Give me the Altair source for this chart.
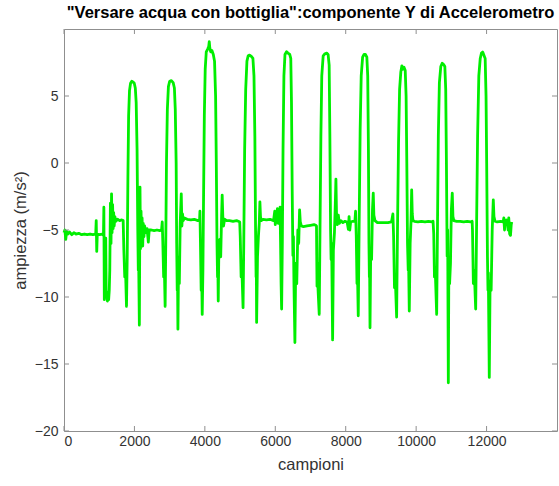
import altair as alt
import pandas as pd

# Componente Y dell'accelerometro durante dieci versate d'acqua con la bottiglia
campioni = [
    # fase iniziale a riposo
    0, 25, 50, 75, 110, 160, 220, 280, 340, 420, 500, 580, 660, 740, 820, 900, 915, 930, 945, 1010, 1090,
    1120, 1132, 1145, 1160, 1172, 1185, 1198, 1215, 1232, 1250, 1268, 1285,
    1300, 1318, 1335, 1350, 1365, 1380, 1395, 1410, 1425, 1445, 1470, 1520, 1580, 1640, 1680,
    # versata 1
    1700, 1725, 1745, 1775, 1795, 1815, 1835, 1860, 1890, 1925, 1960, 1995, 2025, 2050, 2075, 2095,
    2110, 2120, 2140, 2158, 2172, 2188, 2203, 2218, 2235, 2250, 2270, 2290, 2320, 2360, 2395, 2420,
    2480, 2560, 2640, 2720, 2770,
    # versata 2
    2790, 2805, 2830, 2848, 2872, 2890, 2910, 2935, 2965, 3000, 3050, 3100, 3135, 3160, 3185, 3200,
    3215, 3225, 3235, 3255, 3275, 3300, 3330, 3348, 3365, 3385, 3420, 3500, 3600, 3700, 3800, 3850,
    # versata 3
    3860, 3875, 3895, 3910, 3925, 3945, 3965, 3985, 4010, 4040, 4080, 4110, 4125, 4140, 4165, 4200,
    4240, 4275, 4305, 4325, 4345, 4360, 4368, 4380, 4400, 4425, 4450, 4475, 4492, 4510, 4530, 4560,
    4620, 4700, 4800, 4900, 4950,
    # versata 4
    4990, 5005, 5030, 5050, 5085, 5105, 5130, 5160, 5195, 5230, 5270, 5320, 5365, 5395, 5420, 5440,
    5455, 5462, 5470, 5495, 5520, 5545, 5563, 5580, 5600, 5650, 5750, 5850, 5950, 5985, 6000, 6030,
    6060, 6080, 6100,
    # versata 5
    6120, 6135, 6150, 6165, 6180, 6200, 6220, 6245, 6275, 6320, 6360, 6410, 6440, 6460, 6480, 6500,
    6515, 6530, 6557, 6580, 6610, 6640, 6665, 6690, 6710, 6740, 6800, 6900, 7000, 7100, 7150,
    # versata 6
    7170, 7185, 7200, 7215, 7248, 7270, 7295, 7320, 7360, 7410, 7460, 7500, 7530, 7550, 7570, 7585,
    7600, 7628, 7650, 7680, 7705, 7722, 7740, 7760, 7790, 7820, 7860, 7920, 7980, 8040, 8075, 8095,
    8115, 8140, 8200, 8260,
    # versata 7
    8280, 8300, 8320, 8335, 8356, 8380, 8410, 8440, 8480, 8520, 8560, 8600, 8625, 8645, 8660, 8672,
    8678, 8690, 8710, 8735, 8760, 8782, 8800, 8830, 8900, 9000, 9100, 9200, 9300,
    # versata 8
    9340, 9360, 9385, 9405, 9446, 9470, 9500, 9530, 9565, 9595, 9625, 9655, 9690, 9715, 9735, 9755,
    9775, 9785, 9805, 9830, 9855, 9873, 9890, 9910, 9950, 10050, 10150, 10250, 10350, 10450, 10480,
    # versata 9
    10500, 10520, 10540, 10583, 10605, 10630, 10660, 10700, 10740, 10780, 10815, 10840, 10860, 10880,
    10895, 10914, 10930, 10950, 10975, 11000, 11026, 11045, 11070, 11150, 11250, 11350, 11450, 11550,
    11590,
    # versata 10 e coda finale
    11600, 11625, 11650, 11691, 11715, 11745, 11780, 11820, 11855, 11890, 11930, 11960, 11985, 12003,
    12025, 12040, 12050, 12077, 12100, 12130, 12160, 12191, 12210, 12240, 12300, 12400, 12470,
    12490, 12510, 12530, 12560, 12590, 12610, 12630, 12655, 12680, 12700, 12715,
]

ampiezza = [
    # fase iniziale a riposo
    -5.2, -5.0, -5.7, -5.1, -5.3, -5.15, -5.35, -5.2, -5.3, -5.25, -5.35, -5.3, -5.35, -5.3, -5.35, -5.3, -4.3, -6.6, -5.3, -5.35, -5.3,
    -5.4, -3.3, -10.2, -6.0, -9.9, -5.6, -10.0, -9.6, -10.3, -9.9, -10.2, -9.5,
    -8.0, -3.0, -6.0, -2.3, -5.2, -3.1, -4.9, -3.7, -4.7, -4.0, -4.35, -4.2, -4.3, -4.25, -4.3,
    # versata 1
    -6.5, -8.5, -7.8, -10.7, -7.0, -1.0, 3.5, 5.4, 5.95, 6.1, 6.05, 5.95, 5.6, 4.5, 1.0, -5.0,
    -8.0, -7.3, -12.1, -1.8, -6.4, -3.6, -5.9, -4.1, -6.2, -4.5, -5.5, -4.7, -5.2, -4.9, -5.9, -5.0,
    -5.0, -5.05, -5.0, -5.05, -5.0,
    # versata 2
    -4.4, -5.8, -8.5, -7.6, -10.7, -6.0, 0.0, 4.0, 5.7, 6.1, 6.15, 6.0, 5.6, 4.0, 0.0, -6.0,
    -9.5, -8.8, -12.4, -7.0, -9.0, -4.5, -2.3, -4.7, -3.8, -4.3, -4.1, -4.2, -4.25, -4.2, -4.3, -4.25,
    # versata 3
    -3.6, -6.0, -9.5, -8.3, -11.3, -8.0, -2.0, 3.5, 7.0, 8.3, 8.5, 8.7, 9.05, 8.6, 8.3, 8.4,
    8.1, 7.6, 5.0, 0.0, -6.0, -8.5, -7.5, -10.3, -6.0, -5.7, -7.0, -4.0, -2.4, -4.0, -4.7, -4.2,
    -4.3, -4.3, -4.35, -4.3, -4.35,
    # versata 4
    -4.4, -5.5, -8.5, -7.8, -10.8, -6.0, 1.0, 5.5, 7.6, 8.0, 8.05, 7.95, 7.8, 6.5, 2.0, -5.0,
    -8.5, -7.8, -11.9, -7.0, -5.5, -4.5, -2.9, -4.0, -4.3, -4.2, -4.25, -4.2, -4.3, -3.6, -4.6, -4.0,
    -3.4, -4.5, -4.3,
    # versata 5
    -4.3, -3.3, -6.0, -9.0, -10.9, -6.0, 1.0, 6.5, 8.1, 8.3, 8.2, 8.1, 7.8, 4.5, -2.0, -6.9,
    -5.5, -9.0, -13.4, -7.5, -9.0, -5.0, -6.0, -3.5, -4.4, -4.7, -4.75, -4.7, -4.65, -4.6, -4.65,
    # versata 6
    -4.7, -9.2, -7.5, -9.5, -11.3, -5.0, 2.0, 6.5, 8.0, 8.15, 8.2, 8.1, 7.3, 2.0, -5.0, -7.2,
    -6.0, -13.2, -6.5, -5.2, -3.0, -1.2, -4.0, -4.6, -3.9, -4.5, -4.3, -4.45, -4.35, -4.4, -4.95, -4.0,
    -5.0, -4.4, -4.35, -4.35,
    # versata 7
    -3.6, -5.5, -9.0, -8.3, -11.4, -5.0, 2.5, 6.5, 7.9, 8.1, 8.1, 7.9, 6.5, 1.0, -6.0, -8.5,
    -7.5, -12.3, -6.5, -7.2, -3.5, -2.25, -3.9, -4.3, -4.45, -4.45, -4.45, -4.45, -4.4,
    # versata 8
    -3.8, -5.5, -9.3, -8.4, -11.5, -5.0, 1.5, 5.5, 6.8, 7.25, 7.0, 7.15, 6.9, 5.0, 0.0, -6.0,
    -8.0, -7.3, -11.05, -6.0, -4.3, -2.0, -3.8, -4.3, -4.35, -4.4, -4.35, -4.4, -4.35, -4.4, -4.35,
    # versata 9
    -5.3, -8.5, -7.8, -11.3, -5.0, 2.0, 6.0, 7.2, 7.45, 7.35, 7.2, 5.5, 0.0, -6.96,
    -5.0, -16.4, -7.0, -9.0, -7.5, -3.5, -2.25, -4.0, -4.3, -4.35, -4.35, -4.4, -4.35, -4.4,
    -4.35,
    # versata 10 e coda finale
    -5.0, -9.0, -8.0, -10.9, -5.0, 2.0, 6.5, 7.8, 8.2, 8.28, 8.0, 7.8, 5.0, 0.0,
    -7.0, -9.5, -8.2, -16.0, -8.8, -9.5, -5.0, -2.75, -4.0, -4.35, -4.4, -4.35, -4.4,
    -4.1, -5.0, -4.4, -4.25, -4.3, -5.0, -4.1, -5.3, -5.4, -4.6, -4.4,
]

tick_x = [0, 2000, 4000, 6000, 8000, 10000, 12000]
tick_y = [-20, -15, -10, -5, 0, 5]

W, H = 493, 402
FONT = "Liberation Sans"
FRAME = "#8f8f8f"
TEXT = "#333333"

dominio_x = [0, 14000]
dominio_y = [-20, 10]

df = pd.DataFrame({"campioni": campioni, "ampiezza": ampiezza})

sx = alt.Scale(domain=dominio_x, nice=False, zero=False)
sy = alt.Scale(domain=dominio_y, nice=False, zero=False)

segnale = alt.Chart(df).mark_line(color="#00ee00", strokeWidth=2.8, strokeJoin="round").encode(
    x=alt.X(
        "campioni:Q",
        scale=sx,
        axis=alt.Axis(values=tick_x, title="campioni", format="d", labelPadding=3,
                      titlePadding=8, titleFontSize=16.5, titleFontWeight="normal", grid=False),
    ),
    y=alt.Y(
        "ampiezza:Q",
        scale=sy,
        axis=alt.Axis(values=tick_y, title="ampiezza (m/s²)", format="d", labelPadding=6,
                      titlePadding=6, titleFontSize=16.5, titleFontWeight="normal", grid=False),
    ),
    order="campioni:Q",
)

# tacche interne sui quattro lati del riquadro (stessi campi e scale del segnale)
tx = pd.DataFrame({"campioni": tick_x})
ty = pd.DataFrame({"ampiezza": tick_y})

tacche_basso = alt.Chart(tx).mark_rule(color=FRAME, strokeWidth=1).encode(
    x=alt.X("campioni:Q", scale=sx), y=alt.value(H), y2=alt.value(H - 5))
tacche_alto = alt.Chart(tx).mark_rule(color=FRAME, strokeWidth=1).encode(
    x=alt.X("campioni:Q", scale=sx), y=alt.value(0), y2=alt.value(5))
tacche_sx = alt.Chart(ty).mark_rule(color=FRAME, strokeWidth=1).encode(
    y=alt.Y("ampiezza:Q", scale=sy), x=alt.value(0), x2=alt.value(5))
tacche_dx = alt.Chart(ty).mark_rule(color=FRAME, strokeWidth=1).encode(
    y=alt.Y("ampiezza:Q", scale=sy), x=alt.value(W), x2=alt.value(W - 5))

chart = (
    alt.layer(segnale, tacche_basso, tacche_alto, tacche_sx, tacche_dx)
    .properties(
        width=W,
        height=H,
        title=alt.TitleParams(
            '"Versare acqua con bottiglia":componente Y di Accelerometro',
            font=FONT, fontSize=16.5, fontWeight="bold", color="#000000",
            anchor="middle", offset=7,
        ),
        autosize=alt.AutoSizeParams(type="none"),
        padding={"left": 64, "top": 29, "right": 2, "bottom": 55},
    )
    .configure_view(stroke=FRAME, strokeWidth=1)
    .configure_axis(
        domain=False, ticks=False, grid=False,
        labelFont=FONT, labelFontSize=14, labelColor=TEXT,
        titleFont=FONT, titleColor=TEXT,
    )
)

chart.save("out.html", embed_options={"renderer": "svg", "actions": False})
